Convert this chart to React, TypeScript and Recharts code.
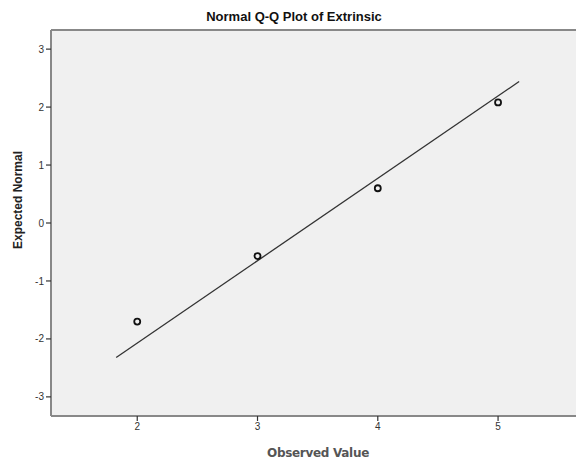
import React from 'react';
import { ComposedChart, Scatter, XAxis, YAxis, CartesianGrid, ReferenceLine } from 'recharts';

// observed scores and their expected normal quantiles
const observed = [2, 3, 4, 5];
const expectedNormal = [-1.7, -0.57, 0.6, 2.08];

// fitted reference line (two end points)
const lineX = [1.825, 5.175];
const lineY = [-2.32, 2.44];

const xTicks = [2, 3, 4, 5];
const yTicks = [-3, -2, -1, 0, 1, 2, 3];

const X_DOMAIN: [number, number] = [1.283, 5.648];
const Y_DOMAIN: [number, number] = [-3.33, 3.33];

const points = observed.map((x, i) => ({ x, y: expectedNormal[i] }));
const fitLine = lineX.map((x, i) => ({ x, y: lineY[i] }));

const OpenCircle = (props: any) => {
  const { cx, cy } = props;
  return <circle cx={cx} cy={cy} r={3} fill="none" stroke="#111" strokeWidth={1.8} />;
};

const tickStyle = { fontSize: 10, fill: '#333', fontFamily: 'Arial, "Liberation Sans", sans-serif' };

export default function App() {
  return (
    <div style={{ position: 'absolute', left: 0, top: 0, width: 576, height: 465, background: '#fff', fontFamily: 'Arial, "Liberation Sans", sans-serif' }}>
      <div style={{ position: 'absolute', left: 0, width: 576, top: 9, textAlign: 'center', fontSize: 13, fontWeight: 'bold', color: '#111', paddingLeft: 12, boxSizing: 'border-box' }}>
        Normal Q-Q Plot of Extrinsic
      </div>
      <ComposedChart width={576} height={465} margin={{ top: 30, right: 0, bottom: 0, left: 0 }}>
        <CartesianGrid fill="#f0f0f0" horizontal={false} vertical={false} />
        <XAxis
          type="number"
          dataKey="x"
          domain={X_DOMAIN}
          ticks={xTicks}
          allowDataOverflow
          height={49}
          tickSize={5}
          tick={tickStyle}
          axisLine={{ stroke: '#888', strokeWidth: 2 }}
          tickLine={{ stroke: '#333', strokeWidth: 1.2 }}
        />
        <YAxis
          type="number"
          dataKey="y"
          domain={Y_DOMAIN}
          ticks={yTicks}
          allowDataOverflow
          width={51}
          tickSize={5}
          tick={tickStyle}
          axisLine={{ stroke: '#888', strokeWidth: 2 }}
          tickLine={{ stroke: '#333', strokeWidth: 1.2 }}
        />
        <ReferenceLine y={Y_DOMAIN[1]} stroke="#888" strokeWidth={2} />
        <Scatter
          data={fitLine}
          line={{ stroke: '#333', strokeWidth: 1.3 }}
          shape={() => null}
          isAnimationActive={false}
        />
        <Scatter data={points} shape={<OpenCircle />} isAnimationActive={false} />
      </ComposedChart>
      <div style={{ position: 'absolute', left: 18, top: 200, transform: 'translate(-50%, -50%) rotate(-90deg)', whiteSpace: 'nowrap', fontSize: 12, fontWeight: 'bold', color: '#222' }}>
        Expected Normal
      </div>
      <div style={{ position: 'absolute', left: 318, top: 453, transform: 'translate(-50%, -50%)', whiteSpace: 'nowrap', fontSize: 12, fontWeight: 'bold', color: '#555', fontFamily: '"DejaVu Sans", sans-serif', letterSpacing: -0.3 }}>
        Observed Value
      </div>
    </div>
  );
}
